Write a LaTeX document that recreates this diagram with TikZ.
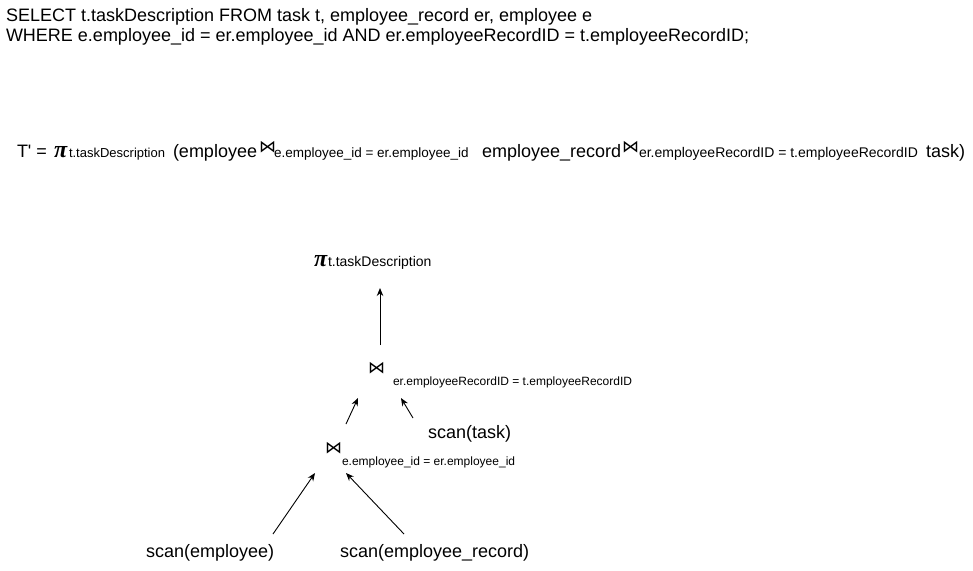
\documentclass[tikz,border=0pt]{standalone}
\usepackage{fontspec}
\setmainfont{Liberation Sans}
\newfontfamily\symfont{DejaVu Sans}
\newfontfamily\greekfont{Liberation Serif}
\usetikzlibrary{arrows.meta}
\begin{document}
\begin{tikzpicture}[x=1pt,y=-1pt,
  txt/.style={anchor=base west, inner sep=0pt, outer sep=0pt},
  big/.style={txt, font=\fontsize{18}{18}\selectfont},
  sub/.style={txt, font=\fontsize{14}{14}\selectfont},
  lbl/.style={txt, font=\fontsize{12}{12}\selectfont},
  pisym/.style={txt, font=\fontsize{24}{24}\selectfont\greekfont\bfseries\itshape},
  joinsym/.style={txt, font=\fontsize{17}{17}\selectfont\symfont},
  flow/.style={-{Stealth[length=8pt,width=6.5pt]}, line width=0.9pt}]
\useasboundingbox (0,0) rectangle (973,570);

% SQL query
\node[big] (sql1) at (6,21) {SELECT t.taskDescription FROM task t, employee\_record er, employee e};
\node[big] (sql2) at (6,41) {WHERE e.employee\_id = er.employee\_id AND er.employeeRecordID = t.employeeRecordID;};

% relational algebra expression
\node[big] (ra0) at (17,157) {T\textquotesingle{} =};
\node[pisym] (rapi) at (54,157) {π};
\node[sub, font=\fontsize{13}{13}\selectfont] (rasub0) at (69,157) {t.taskDescription};
\node[big] (ra1) at (173,157) {(employee};
\node[joinsym] (raj1) at (259,152) {⋈};
\node[sub, font=\fontsize{13.5}{13.5}\selectfont] (rasub1) at (274,157) {e.employee\_id = er.employee\_id};
\node[big] (ra2) at (482,157) {employee\_record};
\node[joinsym] (raj2) at (622,152) {⋈};
\node[sub] (rasub2) at (639,157) {er.employeeRecordID = t.employeeRecordID};
\node[big] (ra3) at (926,157) {task)};

% query tree
\node[pisym] (pi) at (314,266) {π};
\node[sub] (pilbl) at (328,266) {t.taskDescription};
\node[joinsym] (jtop) at (368,373) {⋈};
\node[lbl] (jtoplbl) at (393,385) {er.employeeRecordID = t.employeeRecordID};
\node[big] (stask) at (428,438) {scan(task)};
\node[joinsym] (jlow) at (325,453) {⋈};
\node[lbl] (jlowlbl) at (342,465) {e.employee\_id = er.employee\_id};
\node[big] (semp) at (146,557) {scan(employee)};
\node[big] (serec) at (340,557) {scan(employee\_record)};

% connector end points
\coordinate (a1s) at (380,345); \coordinate (a1e) at (380,288);
\coordinate (a2s) at (346,424); \coordinate (a2e) at (358,398);
\coordinate (a3s) at (413,418); \coordinate (a3e) at (401,398);
\coordinate (a4s) at (273,534); \coordinate (a4e) at (315,473);
\coordinate (a5s) at (404,534); \coordinate (a5e) at (346,473);

\draw[flow] (a1s) -- (a1e);
\draw[flow] (a2s) -- (a2e);
\draw[flow] (a3s) -- (a3e);
\draw[flow] (a4s) -- (a4e);
\draw[flow] (a5s) -- (a5e);
\end{tikzpicture}
\end{document}
